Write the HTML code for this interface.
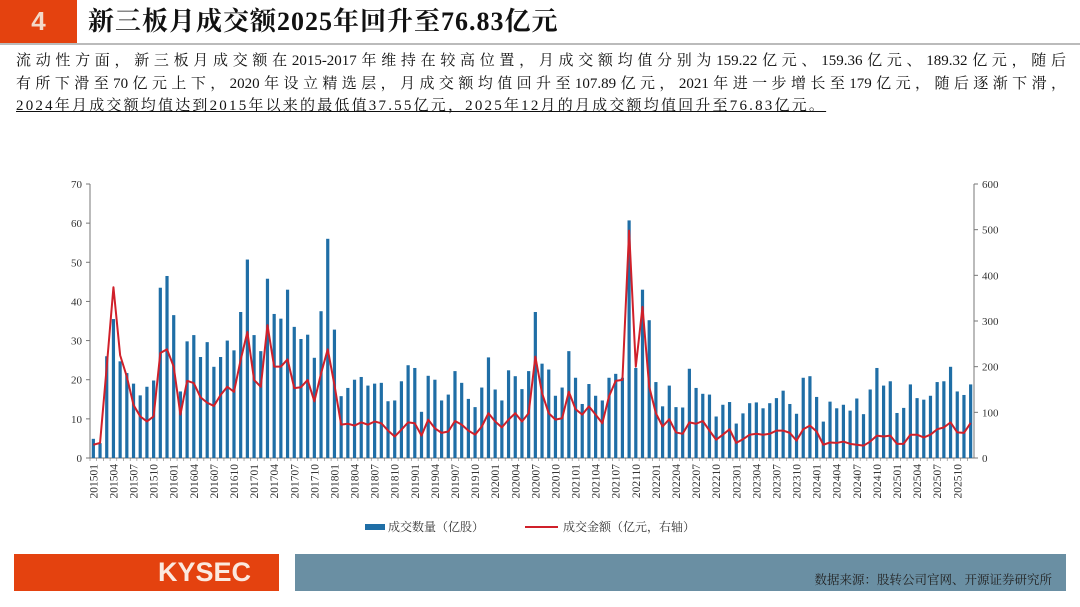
<!DOCTYPE html>
<html><head><meta charset="utf-8"><style>
html,body{margin:0;padding:0;background:#fff;}
body{width:1080px;height:607px;position:relative;overflow:hidden;font-family:"Liberation Serif","Noto Serif CJK SC",serif;}
#num{position:absolute;left:0;top:0;width:77px;height:43px;background:#e4420f;color:#f3d9c9;font:bold 26px "Liberation Sans",sans-serif;text-align:center;line-height:43px;}
#title{position:absolute;left:88px;top:2px;font-size:26px;line-height:40px;color:#111;font-weight:bold;letter-spacing:1px;}
#hline{position:absolute;left:0;top:43px;width:1080px;height:2px;background:#bbb;}
#para{position:absolute;left:16px;top:50px;width:1050px;font-size:15px;line-height:22.5px;color:#111;}
#para div{white-space:nowrap;}
#para .j{text-align:justify;text-align-last:justify;white-space:normal;}
#para u{text-decoration:underline;letter-spacing:2.2px;}
#foot1{position:absolute;left:14px;top:554px;width:265px;height:37px;background:#e4420f;color:#fbe9df;font:bold 27px "Liberation Sans",sans-serif;line-height:37px;text-align:right;box-sizing:border-box;padding-right:28px;}
#foot2{position:absolute;left:295px;top:554px;width:771px;height:37px;background:#6a8fa3;}
#src{position:absolute;right:28px;top:570px;font-size:12.5px;color:#222;}
svg{position:absolute;left:0;top:0;}
</style></head><body>
<div id="num">4</div>
<div id="title">新三板月成交额2025年回升至76.83亿元</div>
<div id="hline"></div>
<div id="para">
<div class="j">流动性方面，新三板月成交额在2015-2017年维持在较高位置，月成交额均值分别为159.22亿元、159.36亿元、189.32亿元，随后</div>
<div class="j">有所下滑至70亿元上下，2020年设立精选层，月成交额均值回升至107.89亿元，2021年进一步增长至179亿元，随后逐渐下滑，</div>
<div><u>2024年月成交额均值达到2015年以来的最低值37.55亿元，2025年12月的月成交额均值回升至76.83亿元。</u></div>
</div>
<svg id="chart" width="1080" height="607"></svg>
<div id="foot1">KYSEC</div>
<div id="foot2"></div>
<div id="src">数据来源：股转公司官网、开源证券研究所</div>
<script>
const volumes=[4.9,3.8,26,35.5,24.7,21.7,19,16,18.2,19.8,43.5,46.5,36.5,17,29.8,31.4,25.8,29.6,23.3,25.8,30,27.5,37.3,50.7,31.4,27.3,45.8,36.8,35.6,43,33.5,30.4,31.5,25.6,37.5,56,32.8,15.8,17.9,20,20.7,18.5,19,19.2,14.5,14.7,19.6,23.7,23,11.8,21,20,14.7,16.2,22.2,19.2,15.1,13,18,25.7,17.5,14.7,22.4,20.9,17.6,22.2,37.3,24.1,22.6,15.9,18,27.3,20.5,13.8,18.9,15.9,14.7,20.5,21.5,20.5,60.7,23,43,35.2,19.4,13.2,18.5,13,12.9,22.8,17.9,16.4,16.2,10.6,13.6,14.3,8.8,11.4,14,14.2,12.7,14,15.3,17.2,13.8,11.3,20.5,20.9,15.6,9.3,14.4,12.7,13.6,12.1,15.2,11.2,17.5,23,18.5,19.6,11.5,12.8,18.8,15.3,14.9,15.9,19.4,19.6,23.3,17,16.1,18.8];
const amounts=[29,33,200,374,225,178,116,91,80,91,230,238,200,95,169,164,133,121,114,138,156,145,215,276,171,156,291,200,200,216,153,155,171,124,185,238,160,73,75,71,78,73,80,76,60,47,62,78,76,49,84,65,55,58,81,73,60,51,69,98,80,67,84,98,80,98,222,142,98,84,87,145,107,95,113,95,76,135,169,171,498,200,331,156,98,69,85,56,53,78,75,81,60,40,51,63,33,41,51,53,51,53,60,60,55,38,63,71,58,29,34,33,36,31,29,27,36,49,47,49,31,31,51,51,45,51,63,67,78,56,55,76.83];
const leftTicks=[0,10,20,30,40,50,60,70];
const rightTicks=[0,100,200,300,400,500,600];
const startYear=2015;
const NS="http://www.w3.org/2000/svg";
const svg=document.getElementById('chart');
const X0=90,X1=974,Y0=458,Y1=184;
const n=volumes.length, step=(X1-X0)/n;
const xC=i=>X0+step*(i+0.5);
const yL=v=>Y0-(v/70)*(Y0-Y1);
const yR=v=>Y0-(v/600)*(Y0-Y1);
function mk(t,a){const e=document.createElementNS(NS,t);for(const k in a)e.setAttribute(k,a[k]);svg.appendChild(e);return e;}
let e;
e=mk('line',{x1:X0,y1:Y1,x2:X0,y2:Y0,stroke:'#777','stroke-width':1});


e=mk('line',{x1:X1,y1:Y1,x2:X1,y2:Y0,stroke:'#777','stroke-width':1});


e=mk('line',{x1:X0,y1:Y0,x2:X1,y2:Y0,stroke:'#777','stroke-width':1});


leftTicks.forEach(v=>{
  mk('line',{x1:X0-4,x2:X0,y1:yL(v),y2:yL(v),stroke:'#777'});
  e=mk('text',{x:X0-8,y:yL(v)+4,'text-anchor':'end','font-size':11,fill:'#333','font-family':'Liberation Serif,serif'});
  e.textContent=v;
  
  
});
rightTicks.forEach(v=>{
  mk('line',{x1:X1,x2:X1+4,y1:yR(v),y2:yR(v),stroke:'#777'});
  e=mk('text',{x:X1+8,y:yR(v)+4,'text-anchor':'start','font-size':11,fill:'#333','font-family':'Liberation Serif,serif'});
  e.textContent=v;
  
  
});
volumes.forEach((v,i)=>{
  e=mk('rect',{x:xC(i)-1.6,y:yL(v),width:3.2,height:Y0-yL(v),fill:'#1f6ea6'});
  
  
  mk('line',{x1:X0+step*i,x2:X0+step*i,y1:Y0,y2:Y0+3,stroke:'#777','stroke-width':0.6});
  if(i%3===0){
    const yr=startYear+Math.floor(i/12), m=i%12+1;
    const lab=''+yr+(m<10?'0':'')+m;
    const tx=xC(i)+4, ty=Y0+6;
    e=mk('text',{x:tx,y:ty,transform:`rotate(-90 ${tx} ${ty})`,'text-anchor':'end','font-size':11.5,fill:'#333','font-family':'Liberation Serif,serif'});
    e.textContent=lab;
    
    
  }
});
e=mk('polyline',{points:amounts.map((v,i)=>xC(i)+','+yR(v)).join(' '),fill:'none',stroke:'#d0202a','stroke-width':2,'stroke-linejoin':'round'});


e=mk('rect',{x:365,y:524,width:20,height:6,fill:'#1f6ea6'});


e=mk('text',{x:388,y:531,'font-size':12,fill:'#333','font-family':'Liberation Serif,Noto Serif CJK SC,serif'});
e.textContent='成交数量（亿股）';


e=mk('line',{x1:525,x2:558,y1:527,y2:527,stroke:'#d0202a','stroke-width':2});


e=mk('text',{x:563,y:531,'font-size':12,fill:'#333','font-family':'Liberation Serif,Noto Serif CJK SC,serif'});
e.textContent='成交金额（亿元，右轴）';


</script>
</body></html>
